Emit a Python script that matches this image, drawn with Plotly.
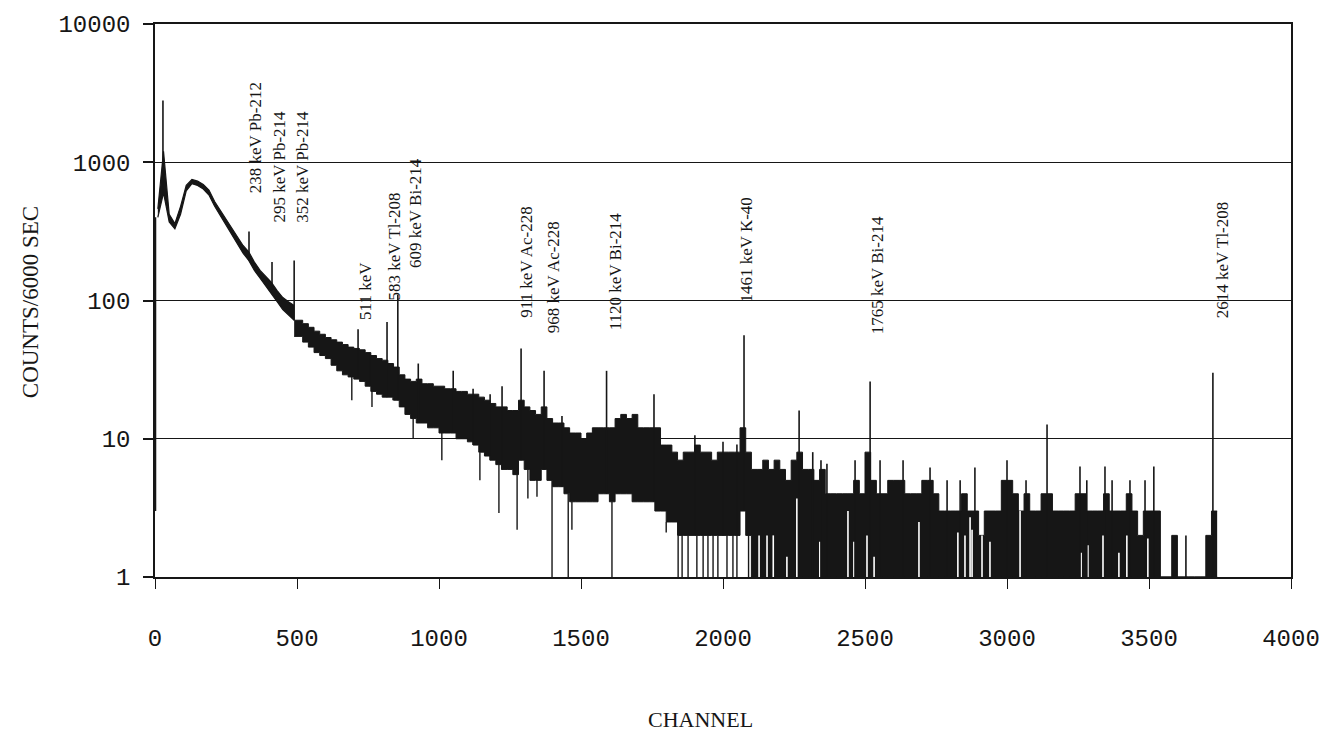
import math
import plotly.graph_objects as go

# ---------------- data ----------------
BIN_WIDTH = 20  # channels per bin

# low-energy part (channels 0-500): smooth band, upper / lower edge per bin
LOW_HI = [460, 1200, 420, 360, 480, 680, 750, 730, 690, 630, 520, 450, 390,
          330, 290, 250, 225, 190, 165, 150, 135, 118, 105, 98, 92]
LOW_LO = [400, 600, 370, 330, 420, 620, 700, 680, 640, 580, 480, 410, 355,
          300, 260, 220, 195, 165, 145, 128, 112, 98, 86, 78, 72]

# rest of the spectrum (channels 500-3740): upper envelope per 20-channel bin
BIN_HI = [
    72, 68, 64, 60, 57,            # 500-600
    54, 52, 50, 48, 46,            # 600-700
    45, 44, 42, 40, 38,            # 700-800
    37, 35, 33, 29, 27,            # 800-900
    26, 27, 25, 25, 24,            # 900-1000
    24, 23, 23, 22, 22,            # 1000-1100
    21, 21, 20, 19, 18,            # 1100-1200
    17, 17, 16, 16, 19,            # 1200-1300
    17, 16, 15, 17, 14,            # 1300-1400
    13, 13, 12, 11, 11,            # 1400-1500
    10, 11, 12, 12, 12,            # 1500-1600
    12, 14, 15, 14, 15,            # 1600-1700
    12, 12, 12, 12, 9,             # 1700-1800
    9, 8, 7, 8, 8,                 # 1800-1900
    9, 8, 8, 7, 8,                 # 1900-2000
    8, 8, 8, 12, 8,                # 2000-2100
    6, 6, 7, 6, 7,                 # 2100-2200
    6, 5, 7, 8, 6,                 # 2200-2300
    6, 5, 6, 4, 4,                 # 2300-2400
    4, 4, 4, 5, 4,                 # 2400-2500
    8, 5, 4, 4, 5,                 # 2500-2600
    5, 5, 4, 4, 4,                 # 2600-2700
    5, 5, 4, 3, 3,                 # 2700-2800
    3, 3, 4, 3, 3,                 # 2800-2900
    2, 3, 3, 3, 5,                 # 2900-3000
    5, 4, 3, 4, 3,                 # 3000-3100
    3, 4, 4, 3, 3,                 # 3100-3200
    3, 3, 4, 4, 3,                 # 3200-3300
    3, 3, 4, 3, 3,                 # 3300-3400
    3, 4, 3, 2, 3,                 # 3400-3500
    3, 3, 1, 1, 2,                 # 3500-3600
    1, 1, 1, 1, 1,                 # 3600-3700
    2, 3,                          # 3700-3740
]

# lower envelope per 20-channel bin (counts; 1 = empty channel)
BIN_LO = [
    55, 50, 46, 42, 40,
    38, 34, 31, 29, 28,
    27, 26, 24, 22, 21,
    20, 20, 19, 17, 15,
    14, 13, 13, 12, 12,
    11, 11, 11, 10, 10,
    9.5, 9, 8, 7.5, 7,
    6.5, 6, 6, 5.5, 7,
    6, 5, 5, 6, 5,
    4.5, 4.5, 4, 3.5, 3.5,
    3.5, 3.5, 3.5, 4, 4,
    3.5, 4, 4, 4, 3.5,
    3.5, 3.5, 3.5, 3, 3,
    2.5, 2.5, 2, 2, 2,
    2, 2, 2, 2, 2,
    2, 2, 2, 3, 2,
    1, 1, 1, 1, 1,
    1, 1, 1, 1, 1,
    1, 1, 1, 1, 1,
    1, 1, 1, 1, 1,
    1, 1, 1, 1, 1,
    1, 1, 1, 1, 1,
    1, 1, 1, 1, 1,
    1, 1, 1, 1, 1,
    1, 1, 1, 1, 1,
    1, 1, 1, 1, 1,
    1, 1, 1, 1, 1,
    1, 1, 1, 1, 1,
    1, 1, 1, 1, 1,
    1, 1, 1, 1, 1,
    1, 1, 1, 1, 1,
    1, 1, 1, 1, 1,
    1, 1,
]
HIGH_START = 500  # first channel of BIN_HI / BIN_LO

# photopeaks (channel, peak counts)
PEAK_CH = [28, 331, 412, 490, 715, 817, 855, 1289, 1370, 1590, 1757, 2074, 2268, 2518, 3141, 3725]
PEAK_COUNTS = [2800, 315, 190, 195, 62, 70, 110, 45, 31, 31, 21, 56, 16, 26, 12.7, 30]

# single-channel upward fluctuations (channel, counts)
SPIKE_CH = [757, 927, 1050, 1120, 1180, 1222, 1433, 1901, 2000, 2049, 2316, 2345, 2366,
            2465, 2553, 2634, 2729, 2789, 2835, 2887, 3000, 3067, 3257, 3281, 3345,
            3370, 3433, 3486, 3517, 3630]
SPIKE_COUNTS = [41, 35, 31, 23, 21, 24, 14.6, 10.6, 9.5, 9.1, 8, 7, 6.6,
                7, 7, 7, 6.2, 5, 5, 6.2, 7, 5, 6.3, 5, 6.3,
                5, 5, 5, 6.3, 2]

# single-channel downward fluctuations (channel, counts; 1 = zero counts)
DIP_CH = [2, 693, 764, 838, 909, 1010, 1144, 1211, 1275, 1313, 1345, 1398, 1455, 1468,
          1609, 1800, 1842, 1856, 1877, 1908, 1930, 1947, 1965, 1982, 2014, 2035,
          2049, 2090]
DIP_COUNTS = [3, 19, 17, 19, 10, 7, 5, 2.9, 2.2, 3.7, 3.8, 1, 1, 2.2,
              1, 2.1, 1, 1, 1, 1, 1, 1, 1, 1, 1, 1,
              1, 1]

# empty channels inside the dense high-channel region (channel, counts of neighbours)
GAP_CH = [2127, 2155, 2177, 2225, 2260, 2341, 2440, 2461, 2507, 2532, 2690, 2827, 2852,
          2870, 2877, 2912, 2940, 3046, 3261, 3285, 3338, 3394, 3422, 3496]
GAP_COUNTS = [2, 2, 2, 1.4, 3.7, 1.8, 3, 1.8, 2, 1.4, 2.5, 2.1, 2,
              2.7, 2.2, 2, 1.8, 3, 1.5, 1.7, 2, 1.5, 2, 1.9]

# peak identification labels (start of each vertical label)
LABEL_TEXT = ["238 keV Pb-212", "295 keV Pb-214", "352 keV Pb-214", "511 keV",
              "583 keV Tl-208", "609 keV Bi-214", "911 keV Ac-228", "968 keV Ac-228",
              "1120 keV Bi-214", "1461 keV K-40", "1765 keV Bi-214", "2614 keV Tl-208"]
LABEL_CH = [352, 440, 518, 743, 842, 915, 1310, 1401, 1620, 2084, 2542, 3757]
LABEL_COUNTS = [582, 354, 354, 70, 97, 166, 72, 56, 59, 94, 55, 72]

X_TICKS = [0, 500, 1000, 1500, 2000, 2500, 3000, 3500, 4000]
Y_TICKS = [1, 10, 100, 1000, 10000]
Y_TICK_TEXT = ["1", "10", "100", "1000", "10000"]

# ---------------- figure ----------------
INK = "#161616"


def lo_at(ch):
    if ch < HIGH_START:
        return LOW_LO[min(int(ch // BIN_WIDTH), len(LOW_LO) - 1)]
    return BIN_LO[min(int((ch - HIGH_START) // BIN_WIDTH), len(BIN_LO) - 1)]


fig = go.Figure()

# low-energy continuum: thin smooth band through bin centres
low_x = [BIN_WIDTH * i + BIN_WIDTH / 2 for i in range(len(LOW_HI))]
fig.add_trace(go.Scatter(x=low_x, y=LOW_LO, mode="lines", line=dict(color=INK, width=1.2),
                         hoverinfo="skip", showlegend=False))
fig.add_trace(go.Scatter(x=low_x, y=LOW_HI, mode="lines", line=dict(color=INK, width=1.2),
                         fill="tonexty", fillcolor=INK, hoverinfo="skip", showlegend=False))

# rest of the spectrum: histogram steps
edges = [HIGH_START + i * BIN_WIDTH for i in range(len(BIN_HI) + 1)]
edges[0] = low_x[-1]
fig.add_trace(go.Scatter(
    x=edges, y=BIN_LO + [BIN_LO[-1]], mode="lines", line=dict(color=INK, width=1, shape="hv"),
    hoverinfo="skip", showlegend=False))
fig.add_trace(go.Scatter(
    x=edges, y=BIN_HI + [BIN_HI[-1]], mode="lines", line=dict(color=INK, width=1, shape="hv"),
    fill="tonexty", fillcolor=INK, hoverinfo="skip", showlegend=False))

# white empty-channel gaps
gx, gy = [], []
for c, v in zip(GAP_CH, GAP_COUNTS):
    gx += [c, c, None]
    gy += [1, v, None]
fig.add_trace(go.Scatter(x=gx, y=gy, mode="lines", line=dict(color="white", width=1.6),
                         hoverinfo="skip", showlegend=False))

# downward fluctuations
dx, dy = [], []
for c, v in zip(DIP_CH, DIP_COUNTS):
    dx += [c, c, None]
    dy += [lo_at(c), v, None]
fig.add_trace(go.Scatter(x=dx, y=dy, mode="lines", line=dict(color=INK, width=1.4),
                         hoverinfo="skip", showlegend=False))

# upward spikes and photopeaks
sx, sy = [], []
for c, v in zip(SPIKE_CH + PEAK_CH, SPIKE_COUNTS + PEAK_COUNTS):
    sx += [c, c, None]
    sy += [lo_at(c), v, None]
fig.add_trace(go.Scatter(x=sx, y=sy, mode="lines", line=dict(color=INK, width=1.6),
                         hoverinfo="skip", showlegend=False))

annotations = []
for t, c, v in zip(LABEL_TEXT, LABEL_CH, LABEL_COUNTS):
    annotations.append(dict(
        x=c, y=math.log10(v), xref="x", yref="y", yanchor="bottom", xanchor="center",
        text=t, textangle=-90, showarrow=False,
        font=dict(family="Liberation Serif", size=17, color=INK)))

annotations.append(dict(
    x=-0.110, y=0.497, xref="paper", yref="paper", text="COUNTS/6000 SEC",
    textangle=-90, showarrow=False, xanchor="center", yanchor="middle",
    font=dict(family="Liberation Serif", size=23, color=INK)))
annotations.append(dict(
    x=0.48, y=-0.257, xref="paper", yref="paper", text="CHANNEL",
    showarrow=False, xanchor="center", yanchor="middle",
    font=dict(family="Liberation Serif", size=22, color=INK)))

fig.update_layout(
    width=1339, height=737,
    margin=dict(l=155, r=48, t=20, b=160),
    paper_bgcolor="white", plot_bgcolor="white",
    showlegend=False,
    annotations=annotations,
    xaxis=dict(
        range=[0, 4000], tickvals=X_TICKS, ticks="outside", ticklen=10, tickwidth=1,
        tickcolor=INK, showgrid=False, zeroline=False, showline=True, linecolor=INK,
        linewidth=1.5, mirror=True, ticklabelstandoff=28,
        tickfont=dict(family="Liberation Mono", size=24, color=INK)),
    yaxis=dict(
        type="log", range=[0, 4], tickvals=Y_TICKS, ticktext=Y_TICK_TEXT,
        ticks="outside", ticklen=10, tickwidth=1.5, tickcolor=INK,
        showgrid=True, gridcolor=INK, gridwidth=1.3, zeroline=False,
        showline=True, linecolor=INK, linewidth=1.5, mirror=True, ticklabelstandoff=8,
        tickfont=dict(family="Liberation Mono", size=24, color=INK)),
)

fig.write_html("out.html")
